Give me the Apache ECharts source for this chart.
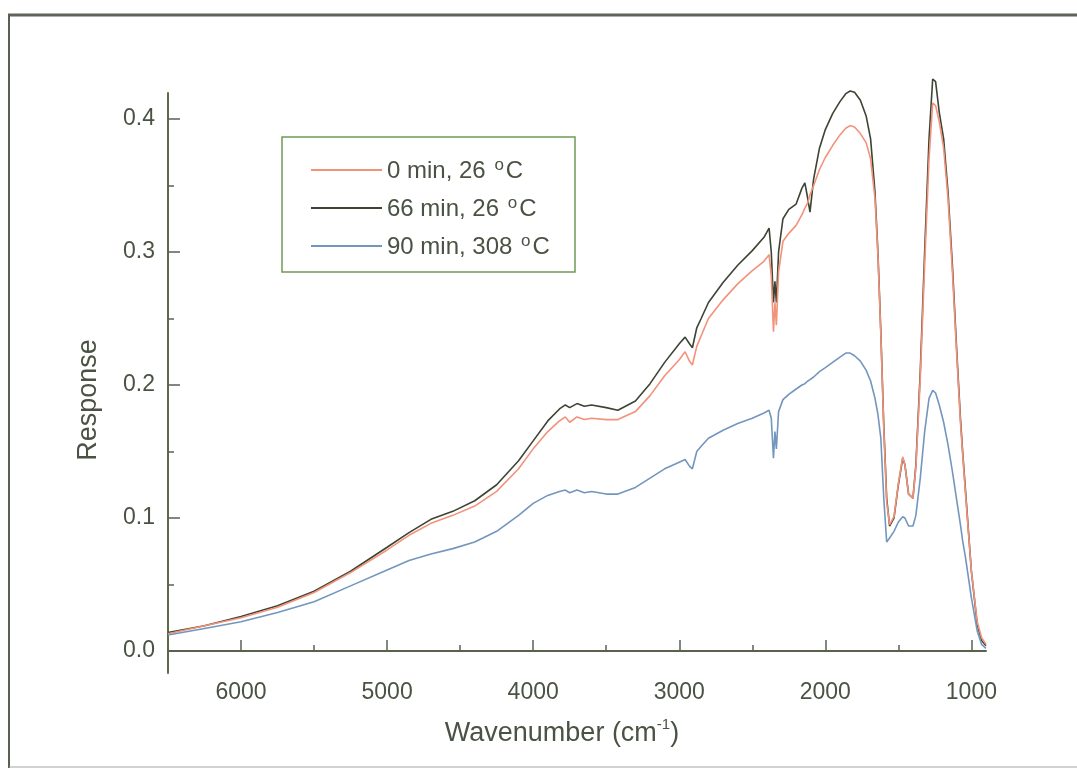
<!DOCTYPE html>
<html>
<head>
<meta charset="utf-8">
<script src="https://cdn.jsdelivr.net/npm/echarts@6/dist/echarts.min.js"></script>
<style>
  html, body { margin: 0; padding: 0; background: #ffffff; }
  #chart { width: 1077px; height: 768px; }
</style>
</head>
<body>
<div id="chart"></div>
<script>
// Wavenumber sampling (cm^-1), high to low
const wavenumbers = [6500, 6250, 6000, 5750, 5500, 5250, 5000, 4850, 4700, 4550, 4400, 4250, 4100, 4000, 3900, 3820, 3780, 3750, 3700, 3650, 3600, 3500, 3420, 3300, 3200, 3100, 3000, 2960, 2930, 2910, 2880, 2850, 2800, 2700, 2600, 2500, 2420, 2385, 2370, 2355, 2345, 2335, 2320, 2290, 2250, 2200, 2160, 2140, 2120, 2105, 2080, 2040, 2000, 1950, 1900, 1860, 1830, 1800, 1760, 1720, 1690, 1660, 1640, 1620, 1600, 1580, 1560, 1530, 1500, 1470, 1455, 1430, 1400, 1380, 1350, 1320, 1290, 1265, 1245, 1220, 1190, 1160, 1130, 1100, 1075, 1060, 1040, 1000, 960, 930, 900];

// Response, 0 min at 26 °C
const resp0min = [0.013, 0.019, 0.025, 0.033, 0.044, 0.059, 0.076, 0.087, 0.096, 0.102, 0.109, 0.120, 0.137, 0.152, 0.165, 0.173, 0.176, 0.172, 0.176, 0.174, 0.175, 0.174, 0.174, 0.180, 0.192, 0.207, 0.219, 0.225, 0.218, 0.215, 0.229, 0.237, 0.250, 0.264, 0.276, 0.286, 0.293, 0.298, 0.282, 0.240, 0.262, 0.245, 0.285, 0.308, 0.314, 0.320, 0.328, 0.333, 0.337, 0.343, 0.350, 0.362, 0.371, 0.380, 0.388, 0.393, 0.395, 0.394, 0.389, 0.382, 0.370, 0.340, 0.298, 0.238, 0.168, 0.112, 0.095, 0.101, 0.126, 0.146, 0.140, 0.118, 0.115, 0.138, 0.205, 0.290, 0.370, 0.412, 0.410, 0.398, 0.378, 0.340, 0.285, 0.222, 0.172, 0.148, 0.118, 0.060, 0.022, 0.010, 0.005];

// Response, 66 min at 26 °C
const resp66min = [0.014, 0.019, 0.026, 0.034, 0.045, 0.060, 0.078, 0.089, 0.099, 0.105, 0.113, 0.125, 0.143, 0.158, 0.173, 0.182, 0.185, 0.183, 0.186, 0.184, 0.185, 0.183, 0.181, 0.188, 0.201, 0.217, 0.231, 0.236, 0.231, 0.228, 0.243, 0.250, 0.262, 0.277, 0.290, 0.301, 0.311, 0.318, 0.300, 0.262, 0.278, 0.262, 0.300, 0.325, 0.332, 0.336, 0.348, 0.352, 0.340, 0.330, 0.355, 0.378, 0.392, 0.404, 0.413, 0.419, 0.421, 0.420, 0.414, 0.402, 0.385, 0.345, 0.300, 0.240, 0.170, 0.115, 0.094, 0.100, 0.125, 0.145, 0.140, 0.118, 0.115, 0.140, 0.210, 0.300, 0.385, 0.430, 0.428, 0.405, 0.385, 0.345, 0.290, 0.225, 0.175, 0.150, 0.120, 0.060, 0.020, 0.008, 0.004];

// Response, 90 min at 308 °C
const resp90min = [0.012, 0.017, 0.022, 0.029, 0.037, 0.049, 0.061, 0.068, 0.073, 0.077, 0.082, 0.090, 0.102, 0.111, 0.117, 0.120, 0.121, 0.119, 0.121, 0.119, 0.120, 0.118, 0.118, 0.123, 0.130, 0.137, 0.142, 0.144, 0.139, 0.137, 0.150, 0.154, 0.160, 0.166, 0.171, 0.175, 0.179, 0.181, 0.175, 0.145, 0.165, 0.152, 0.180, 0.189, 0.193, 0.197, 0.200, 0.201, 0.203, 0.204, 0.206, 0.210, 0.213, 0.217, 0.221, 0.224, 0.224, 0.222, 0.218, 0.211, 0.203, 0.190, 0.178, 0.160, 0.115, 0.082, 0.085, 0.090, 0.097, 0.101, 0.100, 0.094, 0.094, 0.102, 0.130, 0.165, 0.190, 0.196, 0.194, 0.185, 0.172, 0.155, 0.135, 0.113, 0.095, 0.083, 0.070, 0.040, 0.015, 0.005, 0.002];

const xMajorTicks = [1000, 2000, 3000, 4000, 5000, 6000];
const xMinorTicks = [1500, 2500, 3500, 4500, 5500];
const yMajorTicks = [0, 0.1, 0.2, 0.3, 0.4];
const yMinorTicks = [0.05, 0.15, 0.25, 0.35];

const seriesNames = ['0 min, 26 °C', '66 min, 26 °C', '90 min, 308 °C'];
const legendRich = {
  0: '{t|0 min, 26 }{s|o}{t|C}',
  1: '{t|66 min, 26 }{s|o}{t|C}',
  2: '{t|90 min, 308 }{s|o}{t|C}'
};

const FONT = '"Liberation Sans", Arial, sans-serif';
const TEXT = '#4a5343';
const AXIS = '#5a6150';

function pairs(ys) { return wavenumbers.map((w, i) => [w, ys[i]]); }

const chart = echarts.init(document.getElementById('chart'), null, { renderer: 'canvas' });

const xBase = {
  type: 'value', min: 900, max: 6500, inverse: true, position: 'bottom',
  splitLine: { show: false }
};
const yBase = {
  type: 'value', min: -0.0165, max: 0.4195, position: 'left',
  splitLine: { show: false }
};

chart.setOption({
  backgroundColor: '#ffffff',
  animation: false,
  grid: { left: 168, right: 91, top: 93, bottom: 95, containLabel: false },
  graphic: [
    { type: 'line', shape: { x1: 8, y1: 15, x2: 1077, y2: 15 }, style: { stroke: '#5f6459', lineWidth: 3 }, silent: true },
    { type: 'line', shape: { x1: 9, y1: 14, x2: 9, y2: 768 }, style: { stroke: '#58614e', lineWidth: 2 }, silent: true },
    { type: 'line', shape: { x1: 9, y1: 767, x2: 1077, y2: 767 }, style: { stroke: '#a4a79f', lineWidth: 1 }, silent: true },
    { type: 'rect', shape: { x: 282, y: 137, width: 293, height: 135 }, style: { fill: 'none', stroke: '#6f9a55', lineWidth: 1.5 }, silent: true, z: 5 }
  ],
  legend: {
    orient: 'vertical', left: 311, top: 157, padding: 0,
    itemWidth: 71, itemHeight: 2, itemGap: 12, icon: 'rect',
    data: seriesNames,
    formatter: name => legendRich[seriesNames.indexOf(name)],
    textStyle: {
      color: TEXT, fontFamily: FONT,
      rich: {
        t: { fontSize: 24, fontFamily: FONT, color: TEXT, lineHeight: 26, verticalAlign: 'bottom' },
        s: { fontSize: 17, fontFamily: FONT, color: TEXT, lineHeight: 26, verticalAlign: 'top', padding: [0, 2, 0, 2] }
      }
    },
    z: 6
  },
  xAxis: [
    Object.assign({}, xBase, {
      name: '{t|Wavenumber (cm}{s|-1}{t|)}',
      nameLocation: 'middle', nameGap: 44,
      nameTextStyle: {
        padding: [0, 30, 0, 0],
        rich: {
          t: { fontSize: 27, fontFamily: FONT, color: TEXT, lineHeight: 30, verticalAlign: 'bottom' },
          s: { fontSize: 15, fontFamily: FONT, color: TEXT, lineHeight: 30, verticalAlign: 'top' }
        }
      },
      axisLine: { show: true, lineStyle: { color: AXIS, width: 2 } },
      axisTick: { show: true, inside: true, length: 11, customValues: xMajorTicks, lineStyle: { color: AXIS, width: 1.5 } },
      axisLabel: { show: true, customValues: xMajorTicks, margin: 8, fontSize: 23, fontFamily: FONT, color: TEXT, formatter: v => String(v) }
    }),
    Object.assign({}, xBase, {
      axisLine: { show: false },
      axisTick: { show: true, inside: true, length: 6, customValues: xMinorTicks, lineStyle: { color: AXIS, width: 1.5 } },
      axisLabel: { show: false }
    })
  ],
  yAxis: [
    Object.assign({}, yBase, {
      name: 'Response',
      nameLocation: 'middle', nameGap: 66, nameRotate: 90,
      nameTextStyle: { fontSize: 27, fontFamily: FONT, color: TEXT, padding: [0, 34, 0, 0] },
      axisLine: { show: true, lineStyle: { color: '#5d6a45', width: 2 } },
      axisTick: { show: true, inside: true, length: 12, customValues: yMajorTicks, lineStyle: { color: AXIS, width: 1.5 } },
      axisLabel: { show: true, customValues: yMajorTicks, margin: 13, fontSize: 23, fontFamily: FONT, color: TEXT, formatter: v => v.toFixed(1) }
    }),
    Object.assign({}, yBase, {
      axisLine: { show: false },
      axisTick: { show: true, inside: true, length: 6, customValues: yMinorTicks, lineStyle: { color: AXIS, width: 1.5 } },
      axisLabel: { show: false }
    })
  ],
  series: [
    {
      name: seriesNames[1], type: 'line', data: pairs(resp66min), showSymbol: false, clip: false,
      lineStyle: { color: '#3c4434', width: 1.6 }, itemStyle: { color: '#3c4434' }, z: 2
    },
    {
      name: seriesNames[0], type: 'line', data: pairs(resp0min), showSymbol: false, clip: false,
      lineStyle: { color: '#f2927a', width: 1.6 }, itemStyle: { color: '#f2927a' }, z: 3
    },
    {
      name: seriesNames[2], type: 'line', data: pairs(resp90min), showSymbol: false, clip: false,
      lineStyle: { color: '#7396be', width: 1.6 }, itemStyle: { color: '#7396be' }, z: 3
    }
  ]
});
</script>
</body>
</html>
